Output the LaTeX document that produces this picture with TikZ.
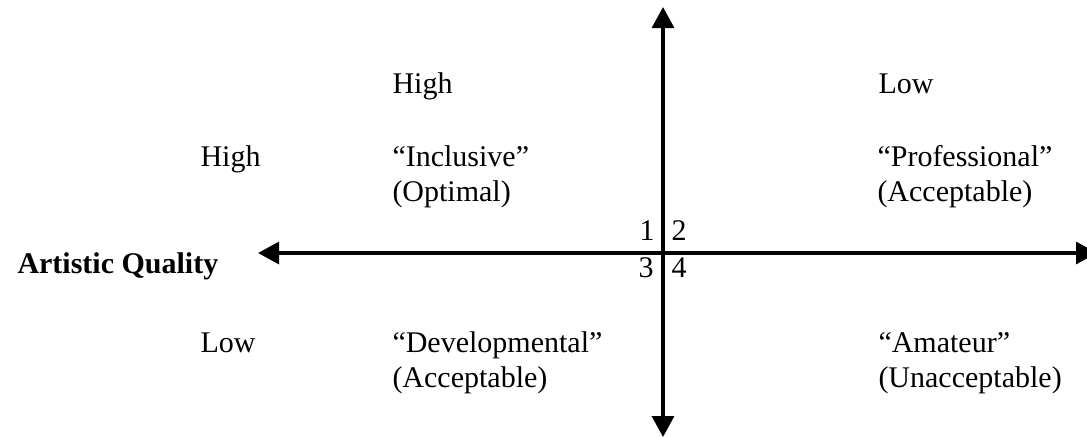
\documentclass[tikz,border=0pt]{standalone}
\usepackage{fontspec}
\setmainfont{Liberation Serif}
\usetikzlibrary{arrows.meta}
\begin{document}
\begin{tikzpicture}[x=0.4pt,y=-0.4pt,
  lbl/.style={anchor=base west,inner sep=0pt,font=\fontsize{12}{14}\selectfont},
  lble/.style={anchor=base east,inner sep=0pt,font=\fontsize{12}{14}\selectfont},
  axis/.style={line width=1.3pt,{Triangle[width=8.8pt,length=8.4pt]}-{Triangle[width=8.8pt,length=8.4pt]}}]
\clip (0,0) rectangle (1087,436);
\coordinate (N) at (663,7);
\coordinate (S) at (663,437);
\coordinate (W) at (258,253);
\coordinate (E) at (1097,253);
\draw[axis] (N) -- (S);
\draw[axis] (W) -- (E);
% column headers
\node[lbl] (hHigh) at (392,93) {High};
\node[lbl] (hLow) at (878,93) {Low};
% row labels
\node[lbl] (rHigh) at (200,166) {High};
\node[lbl] (rLow) at (200,352) {Low};
\node[lbl,font=\fontsize{12}{14}\selectfont\bfseries] (aq) at (17,273) {Artistic Quality};
% quadrants
\node[lbl] (q1a) at (392,166) {“Inclusive”};
\node[lbl] (q1b) at (392,201) {(Optimal)};
\node[lbl] (q2a) at (877,166) {“Professional”};
\node[lbl] (q2b) at (877,201) {(Acceptable)};
\node[lbl] (q3a) at (392,352) {“Developmental”};
\node[lbl] (q3b) at (392,387) {(Acceptable)};
\node[lbl] (q4a) at (878,352) {“Amateur”};
\node[lbl] (q4b) at (878,387) {(Unacceptable)};
% numbers
\node[lble] (n1) at (655,240) {1};
\node[lbl] (n2) at (671,240) {2};
\node[lble] (n3) at (654,277) {3};
\node[lbl] (n4) at (671,277) {4};
\end{tikzpicture}
\end{document}
